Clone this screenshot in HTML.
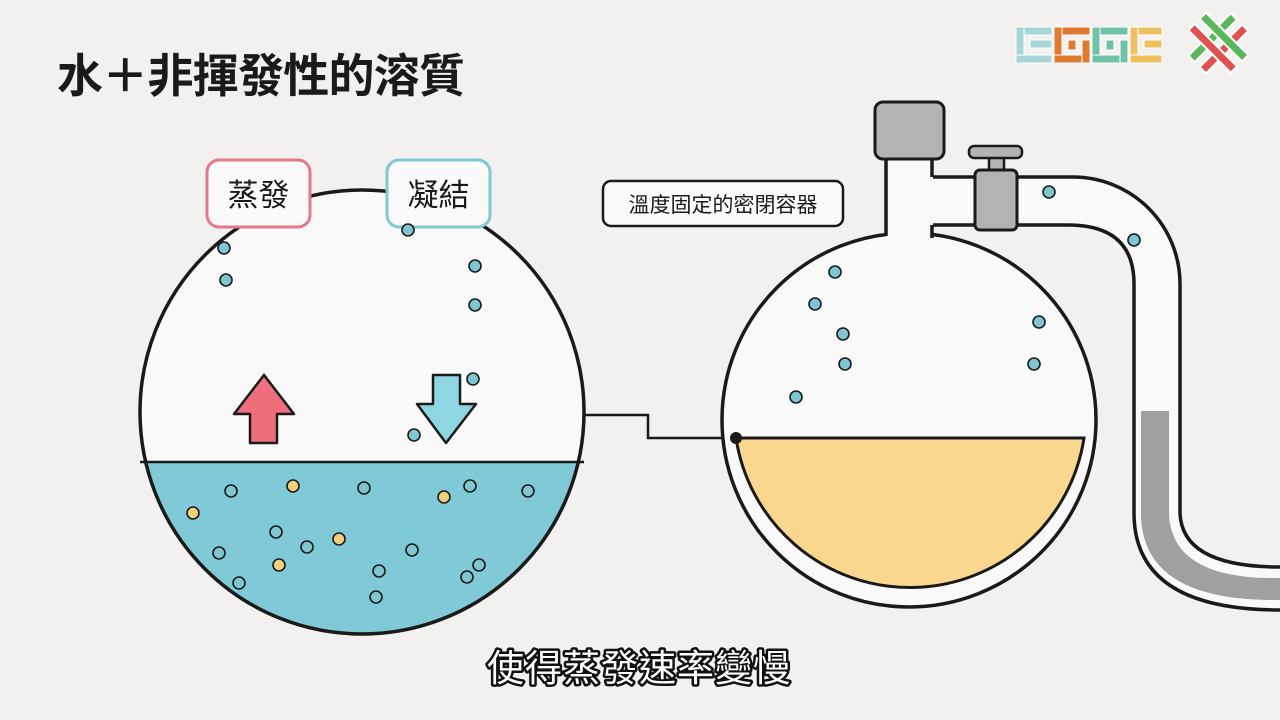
<!DOCTYPE html>
<html><head><meta charset="utf-8"><style>
html,body{margin:0;padding:0;background:#f2f1ef;}
svg{display:block}
text{font-family:"Liberation Sans","Noto Sans CJK TC",sans-serif;}
</style></head><body>
<svg width="1280" height="720" viewBox="0 0 1280 720" xmlns="http://www.w3.org/2000/svg">
<rect width="1280" height="720" fill="#f2f1ef"/>
<text x="57" y="92" font-size="46" font-weight="bold" fill="#1a1a1a" textLength="408" lengthAdjust="spacing">水＋非揮發性的溶質</text>

<!-- logos -->
<g stroke="#fff" stroke-width="1">
<g fill="#a6d6d6"><rect x="1016" y="27" width="36" height="8"/><rect x="1016" y="27" width="8" height="36"/><rect x="1016" y="55" width="36" height="8"/><rect x="1030" y="40" width="22" height="8"/></g>
<g fill="#e07a2e"><rect x="1054" y="27" width="36" height="8"/><rect x="1054" y="27" width="8" height="36"/><rect x="1054" y="55" width="36" height="8"/><rect x="1082" y="40" width="8" height="23"/><rect x="1068" y="40" width="8" height="10"/></g>
<g fill="#6fc2a8"><rect x="1092" y="27" width="36" height="8"/><rect x="1092" y="27" width="8" height="36"/><rect x="1092" y="55" width="36" height="8"/><rect x="1120" y="40" width="8" height="23"/><rect x="1106" y="40" width="8" height="10"/></g>
<g fill="#edc060"><rect x="1130" y="27" width="32" height="8"/><rect x="1130" y="27" width="8" height="36"/><rect x="1130" y="55" width="32" height="8"/><rect x="1144" y="40" width="18" height="8"/></g>
</g>
<g transform="translate(1218,43) rotate(-45)" stroke="#fff" stroke-width="2">
<rect x="-30" y="-12" width="60" height="9" fill="#5bb85a"/>
<rect x="-30" y="4" width="60" height="9" fill="#e05050"/>
<rect x="-12" y="-30" width="9" height="60" fill="#e05050"/>
<rect x="4" y="-30" width="9" height="60" fill="#5bb85a"/>
</g>

<!-- left circle -->
<defs><clipPath id="lc"><circle cx="362" cy="412" r="222"/></clipPath></defs>
<circle cx="362" cy="412" r="222" fill="#f9f9f9"/>
<rect x="130" y="462" width="470" height="200" fill="#80cad8" clip-path="url(#lc)"/>
<line x1="140" y1="462" x2="584" y2="462" stroke="#1a1a1a" stroke-width="2.5"/>
<circle cx="362" cy="412" r="222" fill="none" stroke="#1a1a1a" stroke-width="3.5"/>

<!-- label boxes -->
<rect x="207" y="160" width="103" height="67" rx="12" fill="#fafafa" stroke="#e07a8c" stroke-width="3"/>
<text x="258.5" y="206" font-size="31" text-anchor="middle" fill="#1a1a1a">蒸發</text>
<rect x="387" y="160" width="103" height="67" rx="12" fill="#fafafa" stroke="#80c8d4" stroke-width="3"/>
<text x="438.5" y="206" font-size="31" text-anchor="middle" fill="#1a1a1a">凝結</text>

<!-- arrows -->
<path d="M264 375 L294 414 L277 414 L277 443 L250 443 L250 414 L234 414 Z" fill="#ee6f7b" stroke="#1a1a1a" stroke-width="2.5" stroke-linejoin="round"/>
<path d="M433 375 L460 375 L460 404 L476 404 L446 443 L417 404 L433 404 Z" fill="#8fd6e3" stroke="#1a1a1a" stroke-width="2.5" stroke-linejoin="round"/>

<!-- connector -->
<polyline points="585,415 648,415 648,438 736,438" fill="none" stroke="#1a1a1a" stroke-width="2.5"/>

<!-- right label -->
<rect x="603" y="181" width="240" height="45" rx="8" fill="#fafafa" stroke="#1a1a1a" stroke-width="2.5"/>
<text x="723" y="212" font-size="21" text-anchor="middle" fill="#1a1a1a">溫度固定的密閉容器</text>

<!-- tube -->
<path d="M933 177 L1073 177 A107 107 0 0 1 1180 284 L1180 513 Q1182 567 1280 567 L1280 610 Q1134 610 1134 513 L1134 284 Q1134 225 1068 225 L933 225 Z" fill="#f9f9f9"/>
<path d="M1141 411 L1169 411 L1169 513 Q1171 580 1280 578 L1280 600 Q1141 602 1141 513 Z" fill="#a0a0a0"/>
<path d="M933 177 L1073 177 A107 107 0 0 1 1180 284 L1180 513 Q1182 567 1280 567" fill="none" stroke="#1a1a1a" stroke-width="3.5"/>
<path d="M933 225 L1068 225 Q1134 225 1134 284 L1134 513 Q1134 610 1280 610" fill="none" stroke="#1a1a1a" stroke-width="3.5"/>

<!-- flask -->
<circle cx="909" cy="420" r="187" fill="#f9f9f9" stroke="#1a1a1a" stroke-width="3.5"/>
<rect x="886" y="150" width="47" height="95" fill="#f9f9f9"/>
<path d="M886 158 L886 236 M932 158 L932 177 M932 225 L932 238" stroke="#1a1a1a" stroke-width="3.5" fill="none"/>
<path d="M736 438 L1084 438 A176 176 0 0 1 736 438 Z" fill="#f9d78e" stroke="#1a1a1a" stroke-width="3"/>
<circle cx="736" cy="438" r="6" fill="#1a1a1a"/>
<rect x="875" y="102" width="69" height="57" rx="8" fill="#b3b3b3" stroke="#1a1a1a" stroke-width="3"/>
<rect x="989" y="157" width="15" height="14" fill="#b3b3b3" stroke="#1a1a1a" stroke-width="2.5"/>
<rect x="969" y="146" width="53" height="12" rx="5" fill="#b3b3b3" stroke="#1a1a1a" stroke-width="2.5"/>
<rect x="975" y="170" width="42" height="60" rx="5" fill="#b3b3b3" stroke="#1a1a1a" stroke-width="3"/>

<!-- dots -->
<g fill="#7ec6d0" stroke="#1a1a1a" stroke-width="1.6">
<circle cx="224" cy="248" r="6"/><circle cx="226" cy="280" r="6"/><circle cx="408" cy="230" r="6"/><circle cx="475" cy="266" r="6"/><circle cx="475" cy="305" r="6"/><circle cx="473" cy="379" r="6"/><circle cx="414" cy="435" r="6"/>
<circle cx="231" cy="491" r="6"/><circle cx="364" cy="488" r="6"/><circle cx="470" cy="486" r="6"/><circle cx="528" cy="491" r="6"/><circle cx="276" cy="532" r="6"/><circle cx="307" cy="547" r="6"/><circle cx="219" cy="553" r="6"/><circle cx="412" cy="550" r="6"/><circle cx="379" cy="571" r="6"/><circle cx="479" cy="565" r="6"/><circle cx="467" cy="577" r="6"/><circle cx="239" cy="583" r="6"/><circle cx="376" cy="597" r="6"/>
<circle cx="835" cy="272" r="6"/><circle cx="815" cy="304" r="6"/><circle cx="843" cy="334" r="6"/><circle cx="845" cy="364" r="6"/><circle cx="796" cy="397" r="6"/><circle cx="1039" cy="322" r="6"/><circle cx="1034" cy="364" r="6"/><circle cx="1049" cy="192" r="6"/><circle cx="1134" cy="240" r="6"/>
</g>
<g fill="#f2cf7c" stroke="#1a1a1a" stroke-width="1.6">
<circle cx="193" cy="513" r="6"/><circle cx="293" cy="486" r="6"/><circle cx="444" cy="497" r="6"/><circle cx="339" cy="539" r="6"/><circle cx="279" cy="565" r="6"/>
</g>

<!-- subtitle -->
<text x="639" y="681" font-size="37" text-anchor="middle" fill="#fff" stroke="#111" stroke-width="5" paint-order="stroke" stroke-linejoin="round" letter-spacing="1">使得蒸發速率變慢</text>
</svg>
</body></html>
